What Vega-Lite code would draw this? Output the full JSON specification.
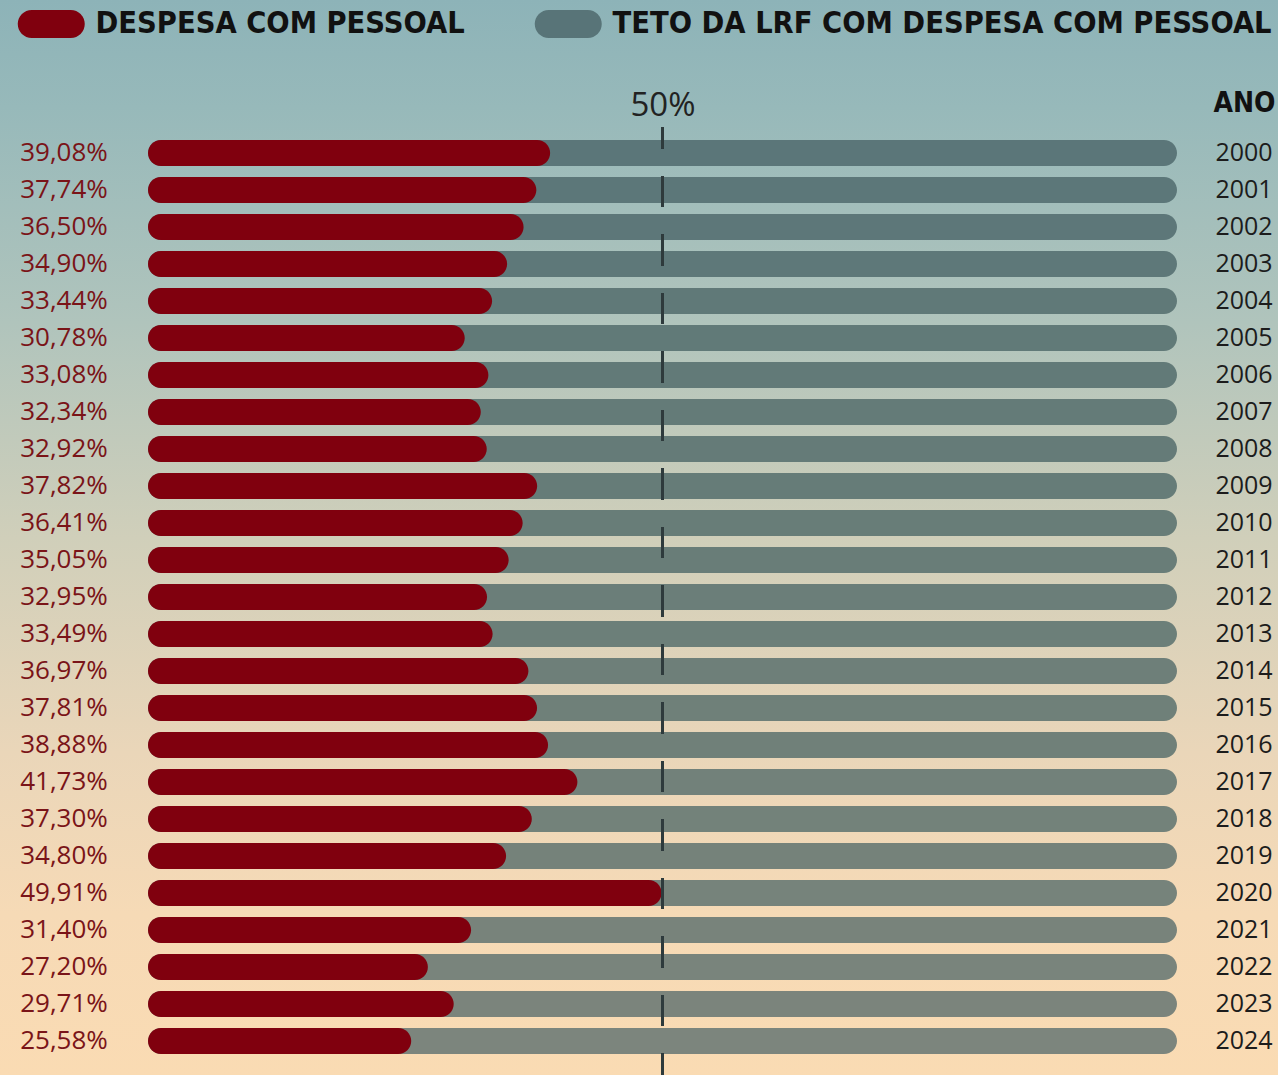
{
  "$schema": "https://vega.github.io/schema/vega-lite/v6.json",
  "autosize": {"type": "none"},
  "width": 1029,
  "height": 925,
  "padding": {"left": 148, "top": 134.5, "right": 101, "bottom": 15.5},
  "background": "#d0cfba",
  "config": {
    "view": {"stroke": null},
    "axisY": {"labels": false, "ticks": false, "domain": false, "grid": false},
    "locale": {"number": {"decimal": ",", "thousands": ".", "grouping": [3], "currency": ["R$", ""]}}
  },
  "data": {
    "values": [
      {"ano": 2000, "valor": 0.3908},
      {"ano": 2001, "valor": 0.3774},
      {"ano": 2002, "valor": 0.3650},
      {"ano": 2003, "valor": 0.3490},
      {"ano": 2004, "valor": 0.3344},
      {"ano": 2005, "valor": 0.3078},
      {"ano": 2006, "valor": 0.3308},
      {"ano": 2007, "valor": 0.3234},
      {"ano": 2008, "valor": 0.3292},
      {"ano": 2009, "valor": 0.3782},
      {"ano": 2010, "valor": 0.3641},
      {"ano": 2011, "valor": 0.3505},
      {"ano": 2012, "valor": 0.3295},
      {"ano": 2013, "valor": 0.3349},
      {"ano": 2014, "valor": 0.3697},
      {"ano": 2015, "valor": 0.3781},
      {"ano": 2016, "valor": 0.3888},
      {"ano": 2017, "valor": 0.4173},
      {"ano": 2018, "valor": 0.3730},
      {"ano": 2019, "valor": 0.3480},
      {"ano": 2020, "valor": 0.4991},
      {"ano": 2021, "valor": 0.3140},
      {"ano": 2022, "valor": 0.2720},
      {"ano": 2023, "valor": 0.2971},
      {"ano": 2024, "valor": 0.2558}
    ]
  },
  "layer": [
    {
      "data": {"values": [{}]},
      "mark": {
        "type": "rect",
        "fill": {
          "gradient": "linear", "x1": 0, "y1": 0, "x2": 0, "y2": 1,
          "stops": [
            {"offset": 0, "color": "#8db3b8"},
            {"offset": 0.1, "color": "#97b9ba"},
            {"offset": 0.3, "color": "#b0c4bc"},
            {"offset": 0.5, "color": "#d0cfba"},
            {"offset": 0.7, "color": "#ead6b9"},
            {"offset": 0.85, "color": "#f6dab6"},
            {"offset": 1, "color": "#fadbb3"}
          ]
        }
      },
      "encoding": {
        "x": {"datum": -0.14383, "type": "quantitative"},
        "x2": {"datum": 1.09815},
        "y": {"datum": 1995.8649, "type": "quantitative"},
        "y2": {"datum": 2024.9189}
      }
    },
    {
      "mark": {"type": "bar", "orient": "horizontal", "height": 26, "cornerRadius": 13},
      "encoding": {
        "x": {
          "datum": 1, "type": "quantitative",
          "scale": {"domain": [0, 1], "nice": false, "padding": 0},
          "axis": {
            "orient": "top", "values": [0.5], "format": ".0%", "ticks": false, "domain": false, "grid": false,
            "labelPadding": 19.5, "labelBaseline": "alphabetic", "labelFont": "Open Sans", "labelFontSize": 33,
            "labelColor": "#222222", "labelFlush": false, "title": null, "zindex": 2
          }
        },
        "x2": {"datum": 0},
        "y": {
          "field": "ano", "type": "quantitative",
          "scale": {"domain": [1999.5, 2024.5], "reverse": true, "nice": false, "zero": false, "padding": 0},
          "axis": {
            "orient": "right", "labels": false, "ticks": false, "domain": false, "grid": false,
            "title": "ANO", "titleAngle": 0, "titleX": 67, "titleY": -31.5,
            "titleAlign": "center", "titleBaseline": "middle",
            "titleFont": "DejaVu Sans Condensed, sans-serif",
            "titleFontSize": 28, "titleFontWeight": "bold", "titleColor": "#111111", "zindex": 2
          }
        },
        "fill": {
          "field": "ano", "type": "quantitative",
          "scale": {"domain": [2000, 2024], "range": ["#5b7679", "#7c857d"], "zero": false, "nice": false},
          "legend": null
        }
      }
    },
    {
      "mark": {"type": "bar", "orient": "horizontal", "height": 26, "cornerRadius": 13},
      "encoding": {
        "x": {"field": "valor", "type": "quantitative"},
        "x2": {"datum": 0},
        "y": {"field": "ano", "type": "quantitative"},
        "color": {
          "datum": "DESPESA COM PESSOAL", "type": "nominal",
          "scale": {"domain": ["DESPESA COM PESSOAL", "TETO DA LRF COM DESPESA COM PESSOAL"], "range": ["#80000e", "#587478"]},
          "legend": {
            "orient": "none", "legendX": -112, "legendY": -126, "direction": "horizontal", "title": null,
            "symbolType": "M -2.393 0 A 1 1 0 0 1 -1.393 -1 L 1.393 -1 A 1 1 0 0 1 1.393 1 L -1.393 1 A 1 1 0 0 1 -2.393 0 Z",
            "symbolSize": 784, "symbolStrokeWidth": 0, "symbolOpacity": 1,
            "labelFont": "DejaVu Sans Condensed, sans-serif",
            "labelFontSize": 30.5, "labelFontWeight": "bold", "labelColor": "#111111",
            "labelOffset": 29, "columnPadding": 69, "padding": 0, "labelLimit": 1000,
            "encode": {
              "symbols": {
                "update": {
                  "fill": [
                    {"test": "datum.label === 'DESPESA COM PESSOAL'", "value": "#b00018"},
                    {"value": "#587478"}
                  ]
                }
              }
            }
          }
        }
      }
    },
    {
      "mark": {"type": "rule", "color": "#2e3b3c", "strokeWidth": 2, "strokeDash": [31, 27.5], "strokeDashOffset": 9.5},
      "encoding": {
        "x": {"datum": 0.5, "type": "quantitative"},
        "y": {"datum": 1999.2973, "type": "quantitative"},
        "y2": {"datum": 2024.9189}
      }
    },
    {
      "mark": {"type": "text", "align": "center", "baseline": "middle", "dx": -84, "font": "Open Sans", "fontSize": 26, "color": "#7a1418"},
      "encoding": {
        "x": {"datum": 0, "type": "quantitative"},
        "y": {"field": "ano", "type": "quantitative"},
        "text": {"field": "valor", "type": "quantitative", "format": ".2%"}
      }
    },
    {
      "mark": {"type": "text", "align": "center", "baseline": "middle", "dx": 67, "font": "Open Sans", "fontSize": 25, "color": "#1c1c1c"},
      "encoding": {
        "x": {"datum": 1, "type": "quantitative"},
        "y": {"field": "ano", "type": "quantitative"},
        "text": {"field": "ano", "type": "quantitative", "format": "d"}
      }
    }
  ]
}
